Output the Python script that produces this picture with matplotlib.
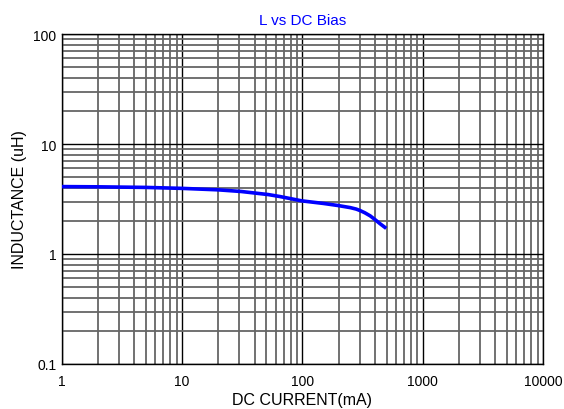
import numpy as np
import matplotlib.pyplot as plt

plt.rcParams['font.family'] = ['Liberation Sans', 'DejaVu Sans']

# DC bias curve
current_ma = [1, 2, 5, 10, 20, 31, 52, 65, 99, 150, 197, 250, 280, 302, 330, 366, 402, 443, 497]
inductance_uh = [4.1, 4.08, 4.03, 3.95, 3.83, 3.70, 3.47, 3.33, 3.04, 2.88, 2.76, 2.64, 2.56, 2.48, 2.37, 2.22, 2.05, 1.88, 1.71]

x_ticks = [1, 10, 100, 1000, 10000]
x_labels = ['1', '10', '100', '1000', '10000']
y_ticks = [0.1, 1, 10, 100]
y_labels = ['0.1', '1', '10', '100']

fig = plt.figure(figsize=(5.64, 4.10), dpi=100)
ax = fig.add_axes([0.1094, 0.1098, 0.8536, 0.8048])

ax.plot(current_ma, inductance_uh, color='#0000ff', lw=2.6, solid_capstyle='butt',
        solid_joinstyle='round', zorder=3)

ax.set_xscale('log')
ax.set_yscale('log')
ax.set_xlim(1, 10000)
ax.set_ylim(0.1, 100)

ax.set_xticks(x_ticks)
ax.set_xticklabels(x_labels)
ax.set_yticks(y_ticks)
ax.set_yticklabels(y_labels)
ax.minorticks_on()
ax.tick_params(which='both', length=0, labelsize=10)
ax.tick_params(axis='x', pad=7)
ax.tick_params(axis='y', pad=4)
ax.tick_params(which='minor', labelbottom=False, labelleft=False)

ax.grid(True, which='major', color='black', lw=1.0)
ax.grid(True, which='minor', color='#666666', lw=1.3)
for s in ax.spines.values():
    s.set_color('black')
    s.set_linewidth(1.0)

ax.set_title('L vs DC Bias', color='#0000ff', fontsize=11, pad=7)
ax.set_xlabel('DC CURRENT(mA)', fontsize=11.5, labelpad=3)
ax.set_ylabel('INDUCTANCE (uH)', fontsize=11.5, labelpad=4)

fig.savefig('out.png', dpi=100)
